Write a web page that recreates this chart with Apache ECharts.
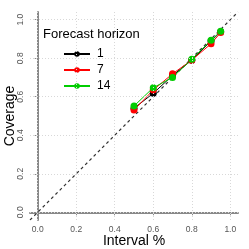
<!DOCTYPE html>
<html><head><meta charset="utf-8">
<script src="https://cdn.jsdelivr.net/npm/echarts@6/dist/echarts.min.js"></script>
<style>html,body{margin:0;padding:0;background:#fff}#c{width:249px;height:249px}</style>
</head><body><div id="c"></div>
<script>
const intervals = [0.5, 0.6, 0.7, 0.8, 0.9, 0.95];
const horizons = ['1', '7', '14'];
const cov1 = [0.54, 0.618, 0.71, 0.79, 0.89, 0.937];
const cov7 = [0.531, 0.635, 0.719, 0.79, 0.875, 0.933];
const cov14 = [0.552, 0.647, 0.70, 0.795, 0.893, 0.94];
const tickVals = [0, 0.2, 0.4, 0.6, 0.8, 1.0];
const colors = ['#000000', '#ff0000', '#00cd00'];

const chart = echarts.init(document.getElementById('c'), null, {renderer: 'canvas'});
const font = 'Liberation Sans, Arial, sans-serif';
function mk(name, vals, color) {
  return {
    name: name, type: 'line', data: intervals.map((x, i) => [x, vals[i]]),
    symbol: 'circle', symbolSize: 7, itemStyle: {color: color},
    lineStyle: {color: color, width: 1, type: 'solid'}, animation: false, z: 3
  };
}
const axisCommon = {
  type: 'value', min: -0.04, max: 1.04,
  axisLine: {show: true, lineStyle: {color: '#888', width: 2}},
  axisTick: {show: true, customValues: tickVals, length: 3, lineStyle: {color: '#888', width: 1}},
  splitLine: {show: false},
  nameLocation: 'middle', nameMoveOverlap: false,
  nameTextStyle: {fontFamily: font, fontSize: 14, color: '#000'}
};
chart.setOption({
  animation: false,
  grid: {left: 30, right: 11, top: 12, bottom: 29, containLabel: false, outerBoundsMode: 'none'},
  title: {text: 'Forecast horizon', left: 38, top: 23,
    textStyle: {fontFamily: font, fontSize: 13, fontWeight: 'normal', color: '#000'}},
  legend: {
    orient: 'vertical', left: 58, top: 41, itemWidth: 26, itemHeight: 7, itemGap: 0,
    data: horizons,
    textStyle: {fontFamily: font, fontSize: 12, color: '#000', lineHeight: 16, padding: [0, 0, 0, 2]}
  },
  xAxis: Object.assign({}, axisCommon, {
    name: 'Interval %', nameGap: 14,
    axisLabel: {customValues: tickVals, formatter: v => v.toFixed(1), fontFamily: font, fontSize: 8.5, color: '#555', margin: 5}
  }),
  yAxis: Object.assign({}, axisCommon, {
    name: 'Coverage', nameGap: 13,
    axisLabel: {customValues: tickVals, formatter: v => v.toFixed(1), rotate: 90, fontFamily: font, fontSize: 8.5, color: '#555', margin: 5}
  }),
  series: [
    {
      name: 'ref', type: 'line', data: [[-0.04, -0.04], [1.04, 1.04]], symbol: 'none', silent: true,
      lineStyle: {color: '#333', width: 1.2, type: [3, 3]}, z: 2, animation: false,
      markLine: {
        silent: true, symbol: 'none', animation: false, label: {show: false},
        lineStyle: {color: '#d8d8d8', width: 1, type: [1, 2]},
        data: tickVals.map(v => ({xAxis: v})).concat(tickVals.map(v => ({yAxis: v})))
      }
    },
    mk('1', cov1, colors[0]),
    mk('7', cov7, colors[1]),
    mk('14', cov14, colors[2])
  ]
});
</script></body></html>
